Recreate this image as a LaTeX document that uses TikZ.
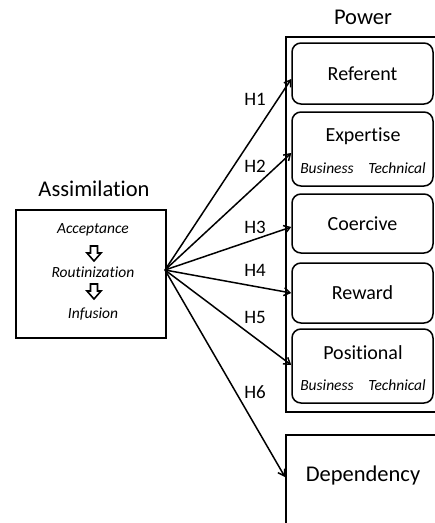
\documentclass[tikz,border=0pt]{standalone}
\usepackage{fontspec}
\setmainfont{Carlito}[Ligatures=NoCommon]
\usetikzlibrary{arrows.meta}
\def\titlefont{\fontsize{22.5}{26}\selectfont}
\def\boxfont{\fontsize{20}{24}\selectfont}
\def\subfont{\fontsize{15.5}{18}\selectfont\itshape}
\def\hollowdown(#1,#2){\draw[line width=1.6, fill=white] (#1-3.5,#2) -- (#1+3.5,#2) -- (#1+3.5,#2+7) -- (#1+7,#2+7) -- (#1,#2+15) -- (#1-7,#2+7) -- (#1-3.5,#2+7) -- cycle;}
\tikzset{
  powerbox/.style={draw, line width=1.5, rounded corners=9pt, minimum width=141, inner sep=0pt, font=\boxfont},
  frame/.style={draw, line width=1.5, anchor=north west, inner sep=0pt},
  hyp/.style={line width=1.5, -{Straight Barb[length=6pt,width=8pt]}},
  hlabel/.style={font=\fontsize{19}{22}\selectfont}
}
\begin{document}
\begin{tikzpicture}[x=1pt, y=-1pt]
	\clip (0,0) rectangle (435,523);
	% assimilation side
	\node[font=\titlefont] (assimtitle) at (94,189) {Assimilation};
	\node[frame, minimum width=150, minimum height=128] (assim) at (15,209) {};
	\node[font=\subfont] (accept) at (93,230) {Acceptance};
	\node[font=\subfont] (routine) at (93,272) {Routinization};
	\node[font=\subfont] (infuse) at (93,314) {Infusion};
	\hollowdown(94,246)
	\hollowdown(94,284)
	\coordinate (src) at (165,270);
	% power side
	\node[font=\titlefont] (powertitle) at (363,17) {Power};
	\node[frame, minimum width=180, minimum height=375] (power) at (285,36) {};
	\node[powerbox, minimum height=61] (referent) at (362.5,73.5) {Referent};
	\node[powerbox, minimum height=74] (expert) at (362.5,149) {};
	\node[font=\boxfont] (experttxt) at (363,136) {Expertise};
	\node[font=\subfont] (expertbus) at (327,168) {Business};
	\node[font=\subfont] (experttec) at (397,168) {Technical};
	\node[powerbox, minimum height=59] (coercive) at (362.5,223.5) {Coercive};
	\node[powerbox, minimum height=60] (reward) at (362.5,293) {Reward};
	\node[powerbox, minimum height=74] (position) at (362.5,366) {};
	\node[font=\boxfont] (positiontxt) at (363,353) {Positional};
	\node[font=\subfont] (positionbus) at (327,385) {Business};
	\node[font=\subfont] (positiontec) at (397,385) {Technical};
	% dependency
	\node[frame, minimum width=180, minimum height=120] (dep) at (285,434) {};
	\node[font=\titlefont] (deptxt) at (363,475) {Dependency};
	% hypotheses
	\draw[hyp] (src) -- ([yshift=-5.5pt]referent.west);
	\draw[hyp] (src) -- ([yshift=-4pt]expert.west);
	\draw[hyp] (src) -- ([yshift=-3.5pt]coercive.west);
	\draw[hyp] (src) -- (reward.west);
	\draw[hyp] (src) -- ([yshift=1pt]position.west);
	\draw[hyp] (src) -- (dep.west |- 0,477);
	\node[hlabel] (h1) at (255,99) {H1};
	\node[hlabel] (h2) at (255,166) {H2};
	\node[hlabel] (h3) at (255,227) {H3};
	\node[hlabel] (h4) at (255,270) {H4};
	\node[hlabel] (h5) at (255,317) {H5};
	\node[hlabel] (h6) at (255,392) {H6};
\end{tikzpicture}
\end{document}
